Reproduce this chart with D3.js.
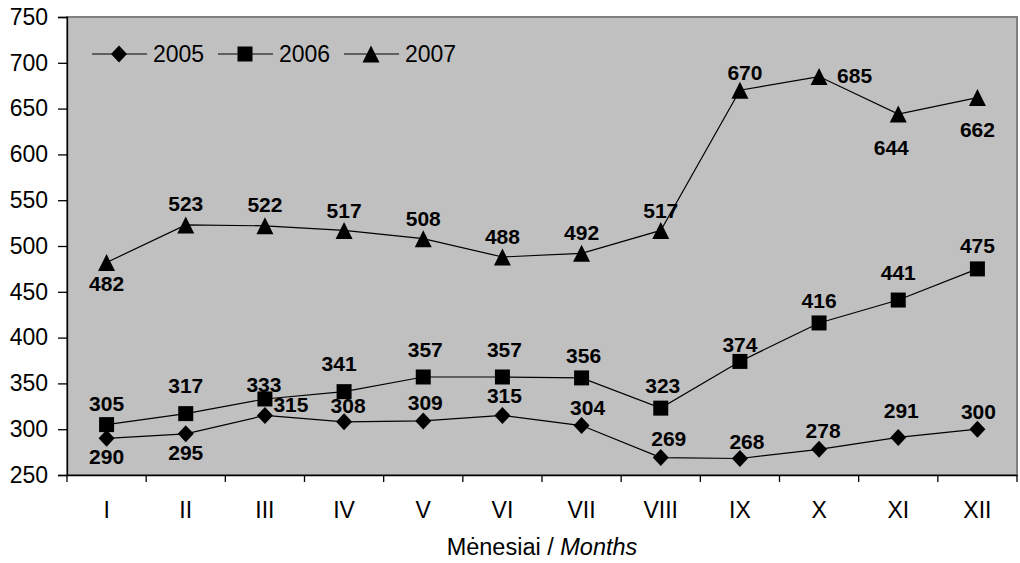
<!DOCTYPE html>
<html>
<head>
<meta charset="utf-8">
<script src="https://cdn.jsdelivr.net/npm/d3@7/dist/d3.min.js"></script>
<style>
  body { margin: 0; background: #fff; }
  text { font-family: "Liberation Sans", Arial, sans-serif; }
</style>
</head>
<body>
<div id="line_chart"></div>
<script>
var months = ["I", "II", "III", "IV", "V", "VI", "VII", "VIII", "IX", "X", "XI", "XII"];
var years = ["2005", "2006", "2007"];
var values2005 = [290, 295, 315, 308, 309, 315, 304, 269, 268, 278, 291, 300];
var values2006 = [305, 317, 333, 341, 357, 357, 356, 323, 374, 416, 441, 475];
var values2007 = [482, 523, 522, 517, 508, 488, 492, 517, 670, 685, 644, 662];
var yTicks = [250, 300, 350, 400, 450, 500, 550, 600, 650, 700, 750];
var xTitle = "Mėnesiai / ";
var xTitleItalic = "Months";

////////////////////////////////////////////////////////////////////////////////////////////////

// label offsets (dx, dy from marker centre to text baseline)
var labelOffsets = [
    [[0,26],[0,26],[26,-3],[4,-9],[2,-11],[2,-12],[6,-11],[8,-12],[7,-10],[4,-11],[3,-19],[1,-10]],
    [[0,-14],[0,-21],[-1,-7],[-5,-21],[2,-20],[2,-20],[2,-15],[2,-15],[0,-9],[0,-15],[0,-20],[0,-16]],
    [[0,29],[0,-14],[0,-14],[0,-12],[0,-13],[0,-13],[0,-13],[0,-12],[5,-10],["r",6],[-7,41],[0,39]]
];

function markerPath(i) {
    if (i === 0) return "M0,-8.5L8,0L0,8.5L-8,0Z";      // diamond
    if (i === 1) return "M-7.5,-7.5H7.5V7.5H-7.5Z";      // square
    return "M0,-8.5L8.5,8.5L-8.5,8.5Z";                  // triangle
}

function drawLineChart(htmlSelector) {
    var width = 1020, height = 563;
    var svg = d3.select(htmlSelector).append("svg")
        .attr("width", width)
        .attr("height", height);

    var plot = {left: 67, right: 1017, top: 17, bottom: 475};

    var x = d3.scaleBand()
        .domain(months)
        .range([plot.left, plot.right])
        .padding(0);

    var y = d3.scaleLinear()
        .domain([250, 750])
        .range([plot.bottom, plot.top]);

    var series = [values2005, values2006, values2007];

    // plot background
    svg.append("rect")
        .attr("x", plot.left)
        .attr("y", plot.top)
        .attr("width", plot.right - plot.left)
        .attr("height", plot.bottom - plot.top)
        .attr("fill", "#c0c0c0")
        .attr("stroke", "#808080")
        .attr("stroke-width", 2);

    // y axis
    var yAxis = svg.append("g")
        .attr("transform", "translate(" + plot.left + ",0)")
        .call(d3.axisLeft(y).tickValues(yTicks).tickSize(9).tickPadding(10));
    yAxis.select(".domain").attr("stroke", "#000").attr("stroke-width", 1.3);
    yAxis.selectAll(".tick line").attr("stroke", "#000").attr("stroke-width", 1.3);
    yAxis.selectAll(".tick text")
        .attr("font-size", 23)
        .attr("font-family", "Liberation Sans, Arial, sans-serif")
        .attr("fill", "#000");

    // x axis, labels centred in bands, ticks at band edges
    var xAxis = svg.append("g")
        .attr("transform", "translate(0," + plot.bottom + ")")
        .call(d3.axisBottom(x).tickSize(0).tickPadding(27));
    xAxis.select(".domain").attr("stroke", "#000").attr("stroke-width", 1.3);
    xAxis.selectAll(".tick text")
        .attr("font-size", 23)
        .attr("font-family", "Liberation Sans, Arial, sans-serif")
        .attr("fill", "#000");
    xAxis.selectAll(".edge")
        .data(d3.range(months.length + 1))
        .enter().append("line")
            .attr("class", "edge")
            .attr("x1", function(i) { return plot.left + i * x.step(); })
            .attr("x2", function(i) { return plot.left + i * x.step(); })
            .attr("y1", 0)
            .attr("y2", 7)
            .attr("stroke", "#000")
            .attr("stroke-width", 1.3);

    // axis title
    var title = svg.append("text")
        .attr("x", (plot.left + plot.right) / 2)
        .attr("y", 555)
        .attr("text-anchor", "middle")
        .attr("font-size", 23.5)
        .attr("fill", "#000");
    title.append("tspan").text(xTitle);
    title.append("tspan").attr("font-style", "italic").text(xTitleItalic);

    var line = d3.line()
        .x(function(d, i) { return x(months[i]) + x.bandwidth() / 2; })
        .y(function(d) { return y(d); });

    series.forEach(function(values, s) {
        svg.append("path")
            .datum(values)
            .attr("d", line)
            .attr("fill", "none")
            .attr("stroke", "#000")
            .attr("stroke-width", 1.2);

        svg.append("g")
            .selectAll("path")
            .data(values)
            .enter().append("path")
                .attr("d", markerPath(s))
                .attr("transform", function(d, i) {
                    return "translate(" + (x(months[i]) + x.bandwidth() / 2) + "," + y(d) + ")";
                })
                .attr("fill", "#000");

        svg.append("g")
            .selectAll("text")
            .data(values)
            .enter().append("text")
                .attr("x", function(d, i) {
                    var off = labelOffsets[s][i];
                    var cx = x(months[i]) + x.bandwidth() / 2;
                    return off[0] === "r" ? cx + 18 : cx + off[0];
                })
                .attr("y", function(d, i) { return y(d) + labelOffsets[s][i][1]; })
                .attr("text-anchor", function(d, i) {
                    return labelOffsets[s][i][0] === "r" ? "start" : "middle";
                })
                .attr("font-size", 21)
                .attr("font-weight", "bold")
                .attr("fill", "#000")
                .text(function(d) { return d; });
    });

    // legend
    var legend = svg.append("g")
        .selectAll("g")
        .data(years)
        .enter().append("g")
            .attr("transform", function(yr, i) {
                return "translate(" + (92 + i * 126) + ",54)";
            });

    legend.append("line")
        .attr("x1", 0)
        .attr("x2", 55)
        .attr("stroke", "#000")
        .attr("stroke-width", 1.2);

    legend.append("path")
        .attr("d", function(yr, i) { return markerPath(i); })
        .attr("transform", "translate(27,0)")
        .attr("fill", "#000");

    legend.append("text")
        .attr("x", 61)
        .attr("y", 8)
        .attr("font-size", 23)
        .attr("fill", "#000")
        .text(function(yr) { return yr; });
}

drawLineChart("#line_chart");
</script>
</body>
</html>
